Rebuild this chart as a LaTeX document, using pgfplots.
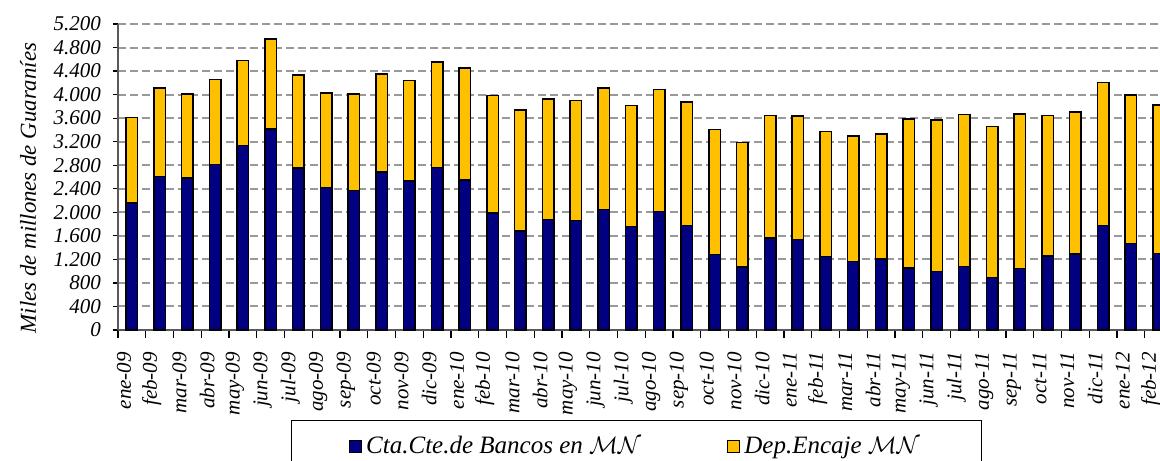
\documentclass[border=0pt]{standalone}
\usepackage{pgfplots}
\pgfplotsset{compat=1.18}
\usepackage{pgfplotstable}
\usepackage{fontspec}
\setmainfont{Liberation Serif}
\definecolor{navyb}{HTML}{000080}
\definecolor{goldb}{HTML}{FFC000}
\pgfplotstableread{
x a b
0 2160 1450
1 2607 1508
2 2578 1435
3 2811 1446
4 3134 1446
5 3417 1526
6 2748 1583
7 2420 1604
8 2374 1639
9 2680 1673
10 2527 1713
11 2760 1797
12 2544 1906
13 1989 1996
14 1683 2058
15 1881 2047
16 1859 2041
17 2046 2069
18 1762 2053
19 2017 2070
20 1779 2098
21 1286 2121
22 1071 2115
23 1564 2081
24 1541 2093
25 1252 2121
26 1162 2137
27 1207 2121
28 1054 2534
29 991 2575
30 1082 2580
31 889 2569
32 1042 2631
33 1258 2387
34 1292 2415
35 1773 2433
36 1473 2523
37 1298 2528
}\datatable
\begin{document}
\begin{tikzpicture}
\useasboundingbox (0,0) rectangle (580pt,230pt);
\clip (0,0) rectangle (580pt,230pt);
\begin{axis}[
  at={(59pt,65pt)}, anchor=south west,
  scale only axis, width=527.25pt, height=153pt,
  ybar stacked, bar width=5.8pt,
  xmin=-0.5, xmax=37.5, ymin=0, ymax=5200,
  ytick={0,400,...,5200},
  xtick={0,...,37},
  xticklabels={ene-09,feb-09,mar-09,abr-09,may-09,jun-09,jul-09,ago-09,sep-09,oct-09,nov-09,dic-09,ene-10,feb-10,mar-10,abr-10,may-10,jun-10,jul-10,ago-10,sep-10,oct-10,nov-10,dic-10,ene-11,feb-11,mar-11,abr-11,may-11,jun-11,jul-11,ago-11,sep-11,oct-11,nov-11,dic-11,ene-12,feb-12},
  minor xtick={-0.5,0.5,...,37.5},
  axis lines*=left,
  axis line style={-, line width=0.7pt, black!65},
  tick align=outside,
  major tick length=2.5pt,
  minor tick length=4pt,
  major x tick style={draw=none},
  minor x tick style={black, line width=0.6pt},
  major y tick style={black, line width=0.6pt},
  ymajorgrids,
  major grid style={dash pattern=on 4pt off 2pt, line width=1pt, color=black!40},
  /pgf/number format/.cd, 1000 sep={.}, assume math mode=true, /pgfplots/.cd,
  yticklabel style={font=\itshape\fontsize{10.5}{12}\selectfont, xshift=-2.5pt},
  xticklabel style={rotate=90, anchor=east, font=\itshape\fontsize{10.5}{12}\selectfont, xshift=-5pt, yshift=4pt},
  ylabel={Miles de millones de Guaraníes},
  every axis y label/.style={at={(axis description cs:-0.0853,0.464)}, rotate=90, anchor=center, font=\itshape\fontsize{11.4}{14}\selectfont},
  legend columns=2,
  legend style={at={(axis description cs:0.4917,-0.294)}, anchor=north, draw=black, line width=0.5pt,
    font=\itshape\fontsize{12.5}{14}\selectfont, inner xsep=29pt, inner ysep=6pt,
    /tikz/every even column/.append style={column sep=41pt}},
  legend image code/.code={\draw[#1, line width=0.6pt] (0pt,-3pt) rectangle (6pt,3pt);},
]
\addplot[fill=navyb, draw=black, line width=0.8pt] table[x=x, y=a] {\datatable};
\addplot[fill=goldb, draw=black, line width=0.8pt] table[x=x, y=b] {\datatable};
\addlegendentry{Cta.Cte.de Bancos en $\mathcal{MN}$}
\addlegendentry{Dep.Encaje $\mathcal{MN}$}
\end{axis}
\end{tikzpicture}
\end{document}
